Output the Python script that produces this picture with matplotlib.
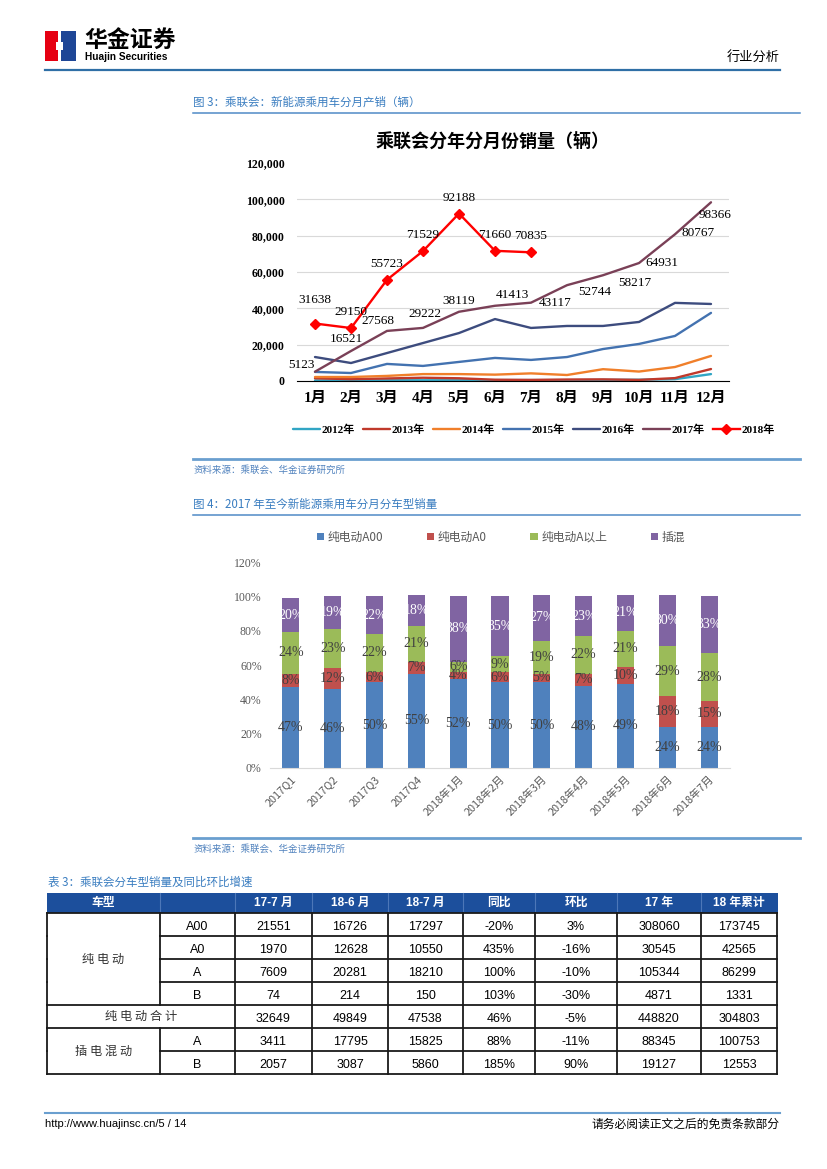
import matplotlib.pyplot as plt
from matplotlib.font_manager import FontProperties
from matplotlib.patches import Rectangle, Polygon

CJK = 'Noto Sans CJK SC'
SERIF = ['Liberation Serif', CJK]
SANS = ['Liberation Sans', CJK]
plt.rcParams['font.family'] = [CJK, 'DejaVu Sans']

W, H = 827, 1169

# ---- figure 3 data: monthly NEV passenger car sales (CPCA)
months = ['1月', '2月', '3月', '4月', '5月', '6月', '7月', '8月', '9月', '10月', '11月', '12月']
years = ['2012年', '2013年', '2014年', '2015年', '2016年', '2017年', '2018年']
sales_2012 = [300, 300, 400, 400, 400, 500, 500, 500, 600, 700, 1000, 3800]
sales_2013 = [1500, 1000, 1400, 1800, 1500, 700, 600, 800, 900, 600, 1600, 6600]
sales_2014 = [2200, 2200, 2800, 3800, 3800, 3500, 4200, 3300, 6500, 5200, 7700, 13800]
sales_2015 = [5000, 4400, 9400, 8300, 10500, 12700, 11600, 13200, 17600, 20400, 24800, 37500]
sales_2016 = [13200, 9900, 15400, 20900, 26400, 34100, 29200, 30300, 30300, 32500, 43000, 42400]
sales_2017 = [5123, 16521, 27568, 29222, 38119, 41413, 43117, 52744, 58217, 64931, 80767, 98366]
sales_2018 = [31638, 29150, 55723, 71529, 92188, 71660, 70835]
line_colors = ['#31A5C4', '#C0392B', '#F07F2A', '#4372B0', '#3D4C7E', '#7A4057', '#FF0000']

# label offsets in pixels (dx, dy up)
off_2017 = [(-14, 7), (-5, 12), (-9, 10), (2, 14), (0, 11), (17, 11), (24, 0),
            (28, -7), (32, -8), (23, 0), (23, 1), (4, -13)]
off_2018 = [(0, 24), (0, 16), (0, 16), (0, 16), (0, 16), (0, 16), (0, 16)]

# ---- figure 4 data: share by model type
bar_cats = ['2017Q1', '2017Q2', '2017Q3', '2017Q4', '2018年1月', '2018年2月', '2018年3月',
            '2018年4月', '2018年5月', '2018年6月', '2018年7月']
bar_names = ['纯电动A00', '纯电动A0', '纯电动A以上', '插混']
share_a00 = [47, 46, 50, 55, 52, 50, 50, 48, 49, 24, 24]
share_a0 = [8, 12, 6, 7, 4, 6, 5, 7, 10, 18, 15]
share_a_up = [24, 23, 22, 21, 6, 9, 19, 22, 21, 29, 28]
share_phev = [20, 19, 22, 18, 38, 35, 27, 23, 21, 30, 33]
bar_colors = ['#4F81BD', '#C0504D', '#9BBB59', '#8064A2']
bar_text_colors = ['#404040', '#404040', '#404040', 'white']

# ---- table 3 data
table_header = ['车型', '', '17-7 月', '18-6 月', '18-7 月', '同比', '环比', '17 年', '18 年累计']
table_group = ['纯电动', '纯电动', '纯电动', '纯电动', '纯电动合计', '插电混动', '插电混动']
table_type = ['A00', 'A0', 'A', 'B', '', 'A', 'B']
m17_7 = [21551, 1970, 7609, 74, 32649, 3411, 2057]
m18_6 = [16726, 12628, 20281, 214, 49849, 17795, 3087]
m18_7 = [17297, 10550, 18210, 150, 47538, 15825, 5860]
yoy = ['-20%', '435%', '100%', '103%', '46%', '88%', '185%']
mom = ['3%', '-16%', '-10%', '-30%', '-5%', '-11%', '90%']
y17 = [308060, 30545, 105344, 4871, 448820, 88345, 19127]
y18_cum = [173745, 42565, 86299, 1331, 304803, 100753, 12553]


def box(x0, y0, x1, y1):
    return [x0 / W, 1 - y1 / H, (x1 - x0) / W, (y1 - y0) / H]


fig = plt.figure(figsize=(W / 100, H / 100), dpi=100)
page = fig.add_axes([0, 0, 1, 1])
page.set_xlim(0, W)
page.set_ylim(H, 0)
page.axis('off')

# ---- page header
page.add_patch(Rectangle((45, 31), 13, 30, color='#E60012', lw=0))
page.add_patch(Rectangle((61, 31), 15, 30, color='#1E4696', lw=0))
page.add_patch(Polygon([(56, 42), (63, 42), (63, 50), (56, 50)], color='white', lw=0))
page.text(84, 41, '华金证券', fontsize=16.5, fontweight='bold', va='center', ha='left')
page.text(85, 57.5, 'Huajin Securities', fontsize=7.3, fontweight='bold', family=SANS,
          va='center', ha='left')
page.text(780, 57, '行业分析', fontsize=9.5, va='center', ha='right')
page.plot([45, 780], [70, 70], color='#2F6FA6', lw=1.6)

blue_txt = '#3A7DC0'
rule = '#6A9FCF'
page.text(193, 102, '图 3：乘联会：新能源乘用车分月产销（辆）', fontsize=8.3, color=blue_txt,
          va='center')
page.plot([193, 800], [113, 113], color='#4F8AC6', lw=1.1)
page.plot([193, 800], [459, 459], color=rule, lw=2)
page.text(193, 470, '资料来源：乘联会、华金证券研究所', fontsize=6.8, color='#4F81BD', va='center')
page.text(193, 504, '图 4：2017 年至今新能源乘用车分月分车型销量', fontsize=8.3, color=blue_txt,
          va='center')
page.plot([193, 800], [515, 515], color='#4F8AC6', lw=1.1)
page.plot([193, 800], [838, 838], color=rule, lw=2)
page.text(193, 849, '资料来源：乘联会、华金证券研究所', fontsize=6.8, color='#4F81BD', va='center')
page.text(48, 882, '表 3：乘联会分车型销量及同比环比增速', fontsize=8.3, color=blue_txt, va='center')

# ---- footer
page.plot([45, 780], [1113, 1113], color=rule, lw=1.5)
page.text(45, 1124, 'http://www.huajinsc.cn/5 / 14', fontsize=8, family=SANS, va='center')
page.text(780, 1124, '请务必阅读正文之后的免责条款部分', fontsize=8.5, va='center', ha='right')

# ---- figure 3: line chart
fig.text(493 / W, 1 - 141 / H, '乘联会分年分月份销量（辆）', fontsize=13, fontweight='bold',
         ha='center', va='center')
ax1 = fig.add_axes(box(297, 163, 729, 381))
series = [sales_2012, sales_2013, sales_2014, sales_2015, sales_2016, sales_2017]
for name, vals, c in zip(years[:6], series, line_colors[:6]):
    ax1.plot(range(len(vals)), vals, color=c, lw=1.7, label=name, solid_capstyle='round')
ax1.plot(range(len(sales_2018)), sales_2018, color=line_colors[6], lw=1.7, marker='D', ms=5,
         label=years[6])

for i, (v, (dx, dy)) in enumerate(zip(sales_2017, off_2017)):
    ax1.annotate(str(v), (i, v), xytext=(dx * 0.72, dy * 0.72), textcoords='offset points',
                 ha='center', va='center', fontsize=9.5, family=SERIF)
for i, (v, (dx, dy)) in enumerate(zip(sales_2018, off_2018)):
    ax1.annotate(str(v), (i, v), xytext=(dx * 0.72, dy * 0.72), textcoords='offset points',
                 ha='center', va='center', fontsize=9.5, family=SERIF)

ax1.set_xlim(-0.5, 11.5)
ax1.set_ylim(0, 120000)
yt = list(range(0, 120001, 20000))
ax1.set_yticks(yt)
ax1.set_yticklabels([f'{v:,}' for v in yt], family=SERIF, fontweight='bold', fontsize=8.5)
ax1.set_xticks(range(12))
ax1.set_xticklabels(months, family=SERIF, fontweight='bold', fontsize=11)
ax1.tick_params(axis='y', length=0, pad=9)
ax1.tick_params(axis='x', length=0, pad=8)
ax1.yaxis.grid(True, color='#D9D9D9', lw=0.8)
ax1.set_axisbelow(True)
ax1.get_ygridlines()[-1].set_visible(False)
for s in ['top', 'right', 'left']:
    ax1.spines[s].set_visible(False)
ax1.spines['bottom'].set_color('black')
ax1.patch.set_alpha(0)
ax1.legend(loc='center', bbox_to_anchor=(534 / W, 1 - 430 / H), bbox_transform=fig.transFigure,
           ncol=7, frameon=False, prop=FontProperties(family=SERIF, weight='bold', size=8),
           handlelength=2.4, handletextpad=0.15, columnspacing=0.75)

# ---- figure 4: stacked bars
ax2 = fig.add_axes(box(270, 562, 730, 768))
shares = [share_a00, share_a0, share_a_up, share_phev]
bottom = [0] * len(bar_cats)
for name, vals, c, tc in zip(bar_names, shares, bar_colors, bar_text_colors):
    ax2.bar(range(len(bar_cats)), vals, 0.41, bottom=bottom, color=c, label=name)
    for i, (v, b) in enumerate(zip(vals, bottom)):
        ax2.text(i, b + v / 2, f'{v}%', ha='center', va='center', color=tc, fontsize=10,
                 family=SERIF)
    bottom = [b + v for b, v in zip(bottom, vals)]
ax2.set_xlim(-0.5, len(bar_cats) - 0.5)
ax2.set_ylim(0, 120)
pt = list(range(0, 121, 20))
ax2.set_yticks(pt)
ax2.set_yticklabels([f'{v}%' for v in pt], family=SERIF, fontsize=8.5, color='#595959')
ax2.set_xticks(range(len(bar_cats)))
ax2.set_xticklabels(bar_cats, rotation=45, ha='right', rotation_mode='anchor', fontsize=7.8,
                    color='#595959')
ax2.tick_params(axis='both', length=0)
ax2.tick_params(axis='y', pad=6)
ax2.tick_params(axis='x', pad=4)
for s in ['top', 'right', 'left']:
    ax2.spines[s].set_visible(False)
ax2.spines['bottom'].set_color('#D9D9D9')
ax2.patch.set_alpha(0)
ax2.legend(loc='center', bbox_to_anchor=(501 / W, 1 - 537 / H), bbox_transform=fig.transFigure,
           ncol=4, frameon=False, fontsize=8.5, labelcolor='#595959', handlelength=0.6,
           handleheight=0.6, handletextpad=0.3, columnspacing=3.7)

# ---- table 3
col_edges = [47, 160, 235, 312, 388, 463, 535, 617, 701, 777]
head_top, head_bot, row_h = 893, 913, 23
n_rows = len(table_group)
page.add_patch(Rectangle((col_edges[0], head_top), col_edges[-1] + 1 - col_edges[0],
                         head_bot - head_top, color='#1C4F9C', lw=0))
for xe in col_edges[1:-1]:
    page.plot([xe, xe], [head_top, head_bot], color='#4D77B8', lw=0.8)
for j, lab in enumerate(table_header):
    if lab:
        cx = (col_edges[j] + col_edges[j + 1]) / 2
        page.text(cx, (head_top + head_bot) / 2, lab, color='white', fontsize=8.5,
                  fontweight='bold', family=SANS, ha='center', va='center')

bcol = '#1A1A1A'
blw = 1.3
cols = [m17_7, m18_6, m18_7, yoy, mom, y17, y18_cum]
for r in range(n_rows):
    y0 = head_bot + r * row_h
    y1 = y0 + row_h
    for k, xe in enumerate(col_edges):
        if k == 1 and table_type[r] == '':
            continue
        page.plot([xe, xe], [y0, y1], color=bcol, lw=blw)
    # horizontal line below row, starting after merged group cell
    if r < n_rows - 1 and table_group[r] == table_group[r + 1]:
        xs = col_edges[1]
    else:
        xs = col_edges[0]
    page.plot([xs, col_edges[-1]], [y1, y1], color=bcol, lw=blw)
    ymid = (y0 + y1) / 2 + 1
    if table_type[r]:
        page.text((col_edges[1] + col_edges[2]) / 2, ymid, table_type[r], fontsize=9,
                  family=SANS, ha='center', va='center_baseline')
    for j, col in enumerate(cols):
        cx = (col_edges[j + 2] + col_edges[j + 3]) / 2
        page.text(cx, ymid, str(col[r]), fontsize=9, family=SANS, ha='center',
                  va='center_baseline')
page.plot([col_edges[0], col_edges[-1]], [head_bot, head_bot], color=bcol, lw=blw)

# merged group labels
r = 0
while r < n_rows:
    g = table_group[r]
    r2 = r
    while r2 + 1 < n_rows and table_group[r2 + 1] == g:
        r2 += 1
    ymid = head_bot + (r + r2 + 1) * row_h / 2
    if table_type[r] == '':
        cx = (col_edges[0] + col_edges[2]) / 2
    else:
        cx = (col_edges[0] + col_edges[1]) / 2
    page.text(cx, ymid, ' '.join(g), fontsize=8.8, color='#333333', ha='center', va='center')
    r = r2 + 1

fig.savefig('out.png', dpi=100)
